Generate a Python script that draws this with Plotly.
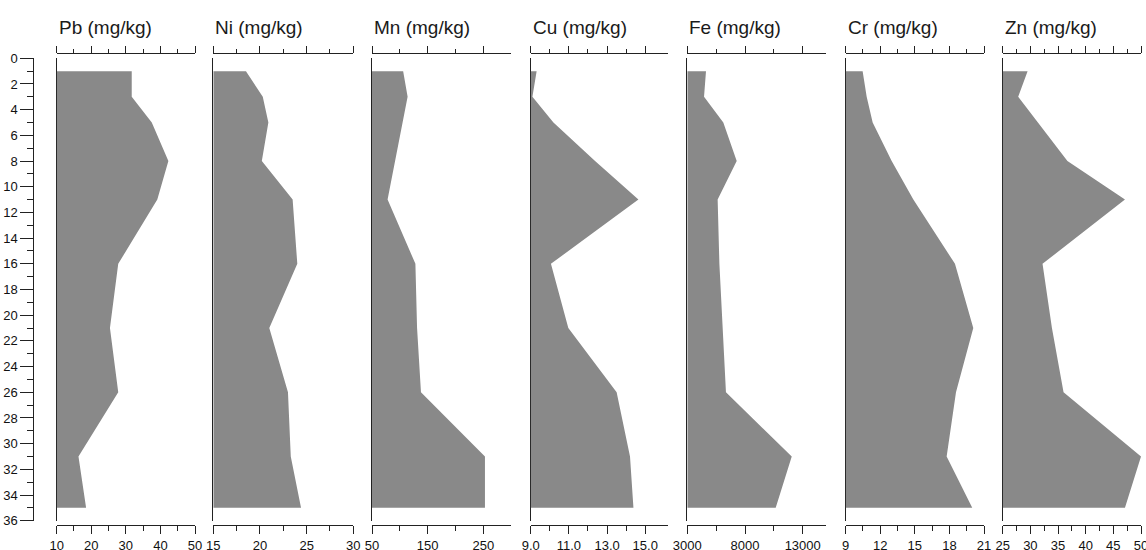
import plotly.graph_objects as go

# ---------------- data ----------------
depths = [1, 3, 5, 8, 11, 16, 21, 26, 31, 35]
pb = [31.7, 31.7, 37.5, 42.3, 39.1, 27.8, 25.4, 27.8, 16.3, 18.5]
ni = [18.5, 20.3, 20.9, 20.2, 23.5, 24.0, 21.0, 23.0, 23.3, 24.4]
mn = [106, 114, 105, 91, 78, 128, 131, 138, 253, 253]
cu = [9.31, 9.09, 10.19, 12.37, 14.64, 10.06, 10.97, 13.5, 14.2, 14.38]
fe = [4620, 4450, 6120, 7280, 5630, 5780, 6040, 6350, 12050, 10660]
cr = [10.47, 10.82, 11.34, 12.99, 14.87, 18.48, 20.07, 18.57, 17.76, 19.98]
zn = [29.5, 27.8, 31.4, 36.7, 47.1, 32.2, 33.9, 36.0, 50.0, 47.1]

titles = ["Pb (mg/kg)", "Ni (mg/kg)", "Mn (mg/kg)", "Cu (mg/kg)",
          "Fe (mg/kg)", "Cr (mg/kg)", "Zn (mg/kg)"]
series = [pb, ni, mn, cu, fe, cr, zn]
ranges = [[10, 50], [15, 30], [50, 300], [9, 16.2], [3000, 15000], [9, 21], [25, 50]]
major_ticks = [[10, 20, 30, 40, 50], [15, 20, 25, 30], [50, 150, 250],
               [9, 11, 13, 15], [3000, 8000, 13000], [9, 12, 15, 18, 21],
               [25, 30, 35, 40, 45, 50]]
major_labels = [["10", "20", "30", "40", "50"], ["15", "20", "25", "30"],
                ["50", "150", "250"], ["9.0", "11.0", "13.0", "15.0"],
                ["3000", "8000", "13000"], ["9", "12", "15", "18", "21"],
                ["25", "30", "35", "40", "45", "50"]]
minor_ticks = [[15, 25, 35, 45], [17.5, 22.5, 27.5], [100, 200],
               [10, 12, 14], [5500, 10500], [10.5, 13.5, 16.5, 19.5],
               [27.5, 32.5, 37.5, 42.5, 47.5]]
depth_major = list(range(0, 37, 2))
depth_minor = list(range(1, 36, 2))
depth_range = [36, 0]

# ---------------- layout geometry (pixels) ----------------
W, H = 1146, 550
panel_px = [(56.7, 195.0), (213.3, 353.3), (372.0, 511.1), (530.7, 668.2),
            (687.3, 825.8), (845.7, 984.0), (1002.7, 1141.0)]
y_top_px, y_bot_px = 58.3, 520.7
top_axis_px, bot_axis_px = 53.3, 525.0
main_axis_px = 33.3

FILL = "#898989"
INK = "#222222"
FONT = "Liberation Sans, Arial, sans-serif"

def px_x(v):
    return v / W

def px_y(v):
    return 1 - v / H

ydom = [px_y(y_bot_px), px_y(y_top_px)]

fig = go.Figure()
layout = dict(
    width=W, height=H, margin=dict(l=0, r=0, t=0, b=0, autoexpand=False),
    paper_bgcolor="white", plot_bgcolor="rgba(0,0,0,0)",
    showlegend=False, font=dict(family=FONT, size=13, color="#111111"),
)

n = len(series)
annotations = []
for i in range(n):
    k = i + 1
    kt = i + 1 + n
    xs = [ranges[i][0]] + list(series[i]) + [ranges[i][0]]
    ys = [depths[0]] + list(depths) + [depths[-1]]
    fig.add_trace(go.Scatter(
        x=xs, y=ys, mode="lines", fill="toself", fillcolor=FILL,
        line=dict(width=0, color=FILL), hoverinfo="skip",
        xaxis="x" if k == 1 else f"x{k}", yaxis="y" if k == 1 else f"y{k}",
    ))
    # empty trace for the top axis
    fig.add_trace(go.Scatter(
        x=[], y=[], mode="markers", hoverinfo="skip",
        xaxis=f"x{kt}", yaxis="y" if k == 1 else f"y{k}",
    ))
    dom = [px_x(panel_px[i][0]), px_x(panel_px[i][1])]
    xname = "xaxis" if k == 1 else f"xaxis{k}"
    yname = "yaxis" if k == 1 else f"yaxis{k}"
    layout[xname] = dict(
        domain=dom, range=ranges[i], anchor="free", position=px_y(bot_axis_px),
        side="bottom", showgrid=False, zeroline=False, automargin=False,
        showline=True, linecolor=INK, linewidth=1,
        tickmode="array", tickvals=major_ticks[i], ticktext=major_labels[i],
        ticks="outside", ticklen=8, tickwidth=1, tickcolor=INK,
        ticklabeloverflow="allow",
        tickfont=dict(size=13, color="#111111", family=FONT),
        minor=dict(tickmode="array", tickvals=minor_ticks[i], ticks="outside",
                   ticklen=5, tickwidth=1, tickcolor=INK, showgrid=False),
        fixedrange=True,
    )
    layout[f"xaxis{kt}"] = dict(
        domain=dom, range=ranges[i], overlaying="x" if k == 1 else f"x{k}",
        anchor="free", position=px_y(top_axis_px), side="top", automargin=False,
        showgrid=False, zeroline=False, showline=True, linecolor=INK, linewidth=1,
        tickmode="array", tickvals=major_ticks[i], showticklabels=False,
        ticks="outside", ticklen=7, tickwidth=1, tickcolor=INK,
        minor=dict(tickmode="array", tickvals=minor_ticks[i], ticks="outside",
                   ticklen=4, tickwidth=1, tickcolor=INK, showgrid=False),
        fixedrange=True,
    )
    layout[yname] = dict(
        domain=ydom, range=depth_range, anchor="x" if k == 1 else f"x{k}",
        showgrid=False, zeroline=False, showline=True, linecolor=INK, linewidth=1,
        ticks="", showticklabels=False, layer="below traces", fixedrange=True,
        automargin=False,
    )
    annotations.append(dict(
        text=titles[i], xref="paper", yref="paper",
        x=px_x(panel_px[i][0]), y=px_y(28), xanchor="left", yanchor="middle",
        showarrow=False, font=dict(size=19, color="#1a1a1a", family=FONT),
    ))

# main depth axis
km = 2 * n + 1
fig.add_trace(go.Scatter(x=[], y=[], mode="markers", hoverinfo="skip",
                         xaxis="x", yaxis=f"y{km}"))
layout[f"yaxis{km}"] = dict(
    overlaying="y", anchor="free", position=px_x(main_axis_px), side="left",
    range=depth_range, showgrid=False, zeroline=False, automargin=False,
    showline=True, linecolor=INK, linewidth=1,
    tickmode="array", tickvals=depth_major,
    ticktext=[str(v) for v in depth_major],
    ticks="outside", ticklen=13, tickwidth=1, tickcolor=INK,
    ticklabeloverflow="allow",
    tickfont=dict(size=13, color="#111111", family=FONT),
    minor=dict(tickmode="array", tickvals=depth_minor, ticks="outside",
               ticklen=6, tickwidth=1, tickcolor=INK, showgrid=False),
    fixedrange=True,
)
layout["annotations"] = annotations
fig.update_layout(**layout)
fig.write_html(
    "out.html",
    config={"displayModeBar": False},
    post_script="document.body.style.margin='0';document.body.style.padding='0';",
)
